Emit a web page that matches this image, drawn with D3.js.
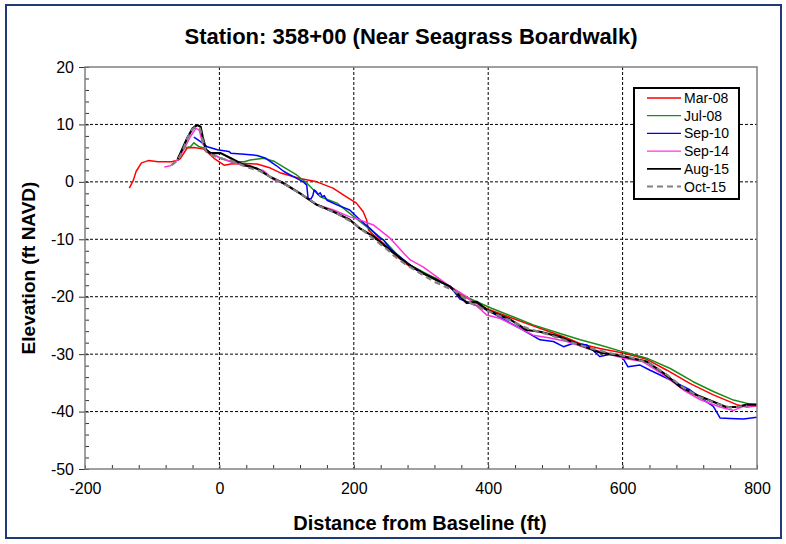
<!DOCTYPE html>
<html><head><meta charset="utf-8">
<script src="https://cdn.jsdelivr.net/npm/d3@7/dist/d3.min.js"></script>
<style>body{margin:0;background:#fff}svg{display:block;font-family:"Liberation Sans",Arial,sans-serif}</style>
</head><body><svg id="c" width="786" height="544"></svg>
<script>
const title = "Station: 358+00 (Near Seagrass Boardwalk)";
const xTitle = "Distance from Baseline (ft)";
const yTitle = "Elevation (ft NAVD)";
const xTicks = [-200, 0, 200, 400, 600, 800];
const yTicks = [20, 10, 0, -10, -20, -30, -40, -50];
const seriesNames = ["Mar-08", "Jul-08", "Sep-10", "Sep-14", "Aug-15", "Oct-15"];

const mar08 = [[-134,-1.1],[-128,0.3],[-124,1.8],[-116,3.3],[-106,3.7],[-91,3.5],[-71,3.5],[-61,3.8],[-58,4.1],[-48,5.9],[-38,6.0],[-23,5.7],[-8,4.1],[7,2.9],[17,3.1],[37,3.2],[56,3.1],[76,2.4],[90,1.6],[120,0.6],[145,0.0],[169,-1.1],[189,-2.6],[204,-3.7],[214,-5.2],[219,-6.6],[222,-8.4],[229,-9.2],[244,-10.7],[264,-13.0],[284,-14.8],[303,-15.9],[323,-16.8],[343,-18.4],[368,-20.2],[398,-22.1],[437,-23.8],[477,-25.5],[517,-27.2],[537,-28.2],[566,-29.0],[601,-29.8],[636,-30.9],[666,-32.8],[700,-35.1],[735,-37.1],[770,-38.8],[785,-39.2],[800,-39.0]];
const jul08 = [[-60,4.3],[-53,5.9],[-43,6.1],[-38,6.8],[-30,6.1],[-23,5.9],[-13,5.0],[2,4.1],[17,3.5],[37,3.5],[46,3.8],[66,4.1],[81,3.6],[95,2.6],[115,1.2],[130,-0.2],[150,-2.6],[175,-3.7],[194,-5.5],[209,-6.9],[229,-8.7],[244,-10.1],[264,-12.6],[284,-14.5],[303,-15.7],[323,-16.9],[343,-18.2],[368,-20.1],[405,-22.0],[437,-23.5],[467,-24.9],[507,-26.4],[537,-27.5],[566,-28.4],[601,-29.6],[636,-30.7],[671,-32.5],[705,-34.8],[735,-36.5],[765,-38.0],[790,-38.7],[800,-38.8]];
const sep10 = [[-38,7.8],[-28,7.0],[-18,6.1],[-3,5.6],[14,5.3],[17,5.0],[37,4.8],[56,4.6],[69,4.1],[85,2.8],[96,1.8],[110,0.9],[125,0.0],[130,-0.6],[132,-2.9],[136,-3.0],[139,-2.4],[141,-1.4],[144,-1.7],[147,-2.2],[150,-1.9],[153,-2.6],[156,-2.4],[160,-3.2],[175,-4.0],[194,-4.9],[209,-6.6],[224,-8.1],[239,-9.8],[244,-10.1],[254,-11.6],[274,-13.6],[293,-15.3],[318,-16.8],[343,-18.2],[358,-20.4],[373,-21.1],[398,-22.3],[433,-24.6],[452,-25.8],[477,-27.5],[497,-27.8],[512,-28.7],[527,-28.1],[547,-28.4],[566,-30.4],[582,-30.0],[599,-30.4],[608,-32.2],[626,-31.9],[641,-32.8],[666,-34.2],[700,-36.2],[720,-37.9],[735,-39.1],[745,-41.1],[760,-41.2],[780,-41.3],[800,-41.0]];
const sep14 = [[-82,2.6],[-73,2.8],[-63,3.8],[-53,5.6],[-43,7.9],[-35,9.3],[-30,9.0],[-25,6.7],[-18,5.3],[-3,4.4],[17,3.5],[37,2.8],[56,2.3],[65,2.0],[80,0.4],[95,-0.3],[120,-2.0],[145,-4.0],[170,-4.9],[194,-6.1],[204,-6.4],[229,-7.5],[254,-9.8],[274,-12.4],[284,-13.6],[303,-14.8],[323,-16.5],[343,-18.2],[368,-20.0],[398,-23.2],[418,-23.8],[442,-25.2],[467,-26.7],[492,-27.2],[517,-27.8],[547,-29.0],[566,-29.5],[601,-30.7],[630,-31.3],[661,-33.6],[690,-36.2],[715,-37.9],[745,-39.2],[765,-39.8],[780,-39.1],[800,-39.0]];
const aug15 = [[-62,4.0],[-58,5.0],[-48,7.6],[-40,9.3],[-33,9.9],[-28,9.6],[-25,7.9],[-20,5.6],[-13,5.0],[2,5.0],[17,4.1],[37,2.9],[46,2.7],[56,2.3],[75,0.9],[95,-0.2],[120,-2.0],[145,-4.0],[170,-5.2],[194,-6.6],[209,-8.1],[229,-9.5],[254,-11.9],[279,-14.2],[303,-15.9],[323,-17.1],[343,-18.2],[368,-21.1],[383,-20.9],[398,-22.3],[433,-24.0],[457,-25.8],[477,-26.1],[507,-27.0],[537,-28.4],[566,-29.7],[601,-30.4],[636,-31.3],[661,-33.3],[686,-35.7],[710,-37.1],[735,-38.3],[754,-39.2],[770,-39.2],[785,-38.8],[800,-38.8]];
const oct15 = [[-71,2.9],[-62,3.8],[-55,5.3],[-47,7.8],[-40,9.2],[-34,9.6],[-29,9.3],[-25,7.4],[-20,5.3],[-10,4.6],[5,4.0],[20,3.6],[40,2.6],[60,1.9],[80,0.6],[100,-0.6],[125,-2.4],[150,-4.3],[175,-5.5],[200,-7.2],[215,-8.6],[225,-9.5],[250,-11.8],[260,-12.9],[275,-14.2],[300,-16.0],[320,-17.4],[350,-19.0],[375,-21.2],[400,-22.5],[430,-24.0],[460,-25.6],[490,-26.6],[520,-27.8],[550,-28.9],[580,-29.8],[610,-30.5],[640,-31.6],[665,-33.5],[690,-35.8],[715,-37.5],[740,-38.6],[760,-39.3],[785,-39.0]];

const seriesData = [mar08, jul08, sep10, sep14, aug15, oct15];
const colors = ["#ff0000", "#1a8c1a", "#0000ff", "#ff33dd", "#000000", "#808080"];
const widths = [1.5, 1.5, 1.5, 1.5, 2.2, 2.2];
const dashes = [null, null, null, null, null, "6,4"];

const svg = d3.select("#c");
const L = 85, R = 757, T = 67, B = 469;
const x = d3.scaleLinear().domain([-200, 800]).range([L, R]);
const y = d3.scaleLinear().domain([-50, 20]).range([B, T]);
const fmt = d => String(d);

// outer frame
svg.append("rect").attr("x", 6).attr("y", 5).attr("width", 775).attr("height", 533)
  .attr("fill", "#fff").attr("stroke", "#1f3a78").attr("stroke-width", 2);

// grid
const g = svg.append("g");
g.selectAll(".gx").data(xTicks.filter(d => d > -200 && d < 800)).enter().append("line")
  .attr("x1", d => x(d)).attr("x2", d => x(d)).attr("y1", T).attr("y2", B)
  .attr("stroke", "#000").attr("stroke-width", 1).attr("stroke-dasharray", "3,2");
g.selectAll(".gy").data(yTicks.filter(d => d > -50 && d < 20)).enter().append("line")
  .attr("x1", L).attr("x2", R).attr("y1", d => y(d)).attr("y2", d => y(d))
  .attr("stroke", "#000").attr("stroke-width", 1).attr("stroke-dasharray", "3,2");

// minor ticks via axes
const minorX = d3.range(-200, 801, 40);
const minorY = d3.range(-50, 21, 2);
svg.append("g").attr("transform", `translate(0,${B})`)
  .call(d3.axisTop(x).tickValues(minorX).tickSize(4).tickFormat(""))
  .call(a => a.select(".domain").remove())
  .selectAll("line").attr("stroke", "#333");
svg.append("g").attr("transform", `translate(${L},0)`)
  .call(d3.axisRight(y).tickValues(minorY).tickSize(4).tickFormat(""))
  .call(a => a.select(".domain").remove())
  .selectAll("line").attr("stroke", "#333");

// major axes
const xa = svg.append("g").attr("transform", `translate(0,${B})`)
  .call(d3.axisBottom(x).tickValues(xTicks).tickSize(0).tickPadding(14).tickFormat(fmt));
xa.select(".domain").remove();
xa.selectAll("text").attr("font-size", 16).attr("fill", "#000").attr("font-family", "Liberation Sans, Arial");
const ya = svg.append("g").attr("transform", `translate(${L},0)`)
  .call(d3.axisLeft(y).tickValues(yTicks).tickSize(6).tickPadding(5).tickFormat(fmt));
ya.select(".domain").remove();
ya.selectAll("line").attr("stroke", "#333");
ya.selectAll("text").attr("font-size", 16).attr("fill", "#000").attr("font-family", "Liberation Sans, Arial");

// series
const line = d3.line().x(d => x(d[0])).y(d => y(d[1]));
svg.append("clipPath").attr("id", "pc").append("rect")
  .attr("x", L).attr("y", T).attr("width", R - L).attr("height", B - T);
const lg = svg.append("g").attr("clip-path", "url(#pc)");
seriesData.forEach((s, i) => {
  lg.append("path").datum(s).attr("d", line).attr("fill", "none")
    .attr("stroke", colors[i]).attr("stroke-width", widths[i])
    .attr("stroke-dasharray", dashes[i]).attr("stroke-linejoin", "round");
});

// plot border
svg.append("rect").attr("x", L).attr("y", T).attr("width", R - L).attr("height", B - T)
  .attr("fill", "none").attr("stroke", "#808080").attr("stroke-width", 1.5);

// legend
const lx = 634, ly = 88, lw = 105, lh = 111;
const leg = svg.append("g");
leg.append("rect").attr("x", lx).attr("y", ly).attr("width", lw).attr("height", lh)
  .attr("fill", "#fff").attr("stroke", "#000").attr("stroke-width", 2);
seriesNames.forEach((n, i) => {
  const yy = ly + 10 + i * 17.7;
  leg.append("line").attr("x1", lx + 13).attr("x2", lx + 47).attr("y1", yy).attr("y2", yy)
    .attr("stroke", colors[i]).attr("stroke-width", widths[i] > 2 ? 1.8 : 1.3)
    .attr("stroke-dasharray", dashes[i]);
  leg.append("text").attr("x", lx + 50).attr("y", yy + 5).text(n)
    .attr("font-size", 14).attr("fill", "#000");
});

// titles
svg.append("text").attr("x", 411).attr("y", 44).attr("text-anchor", "middle")
  .attr("font-size", 22).attr("font-weight", "bold").text(title);
svg.append("text").attr("x", 420).attr("y", 530).attr("text-anchor", "middle")
  .attr("font-size", 20).attr("font-weight", "bold").text(xTitle);
svg.append("text").attr("transform", "translate(35,268) rotate(-90)").attr("text-anchor", "middle")
  .attr("font-size", 19).attr("font-weight", "bold").text(yTitle);
</script></body></html>
